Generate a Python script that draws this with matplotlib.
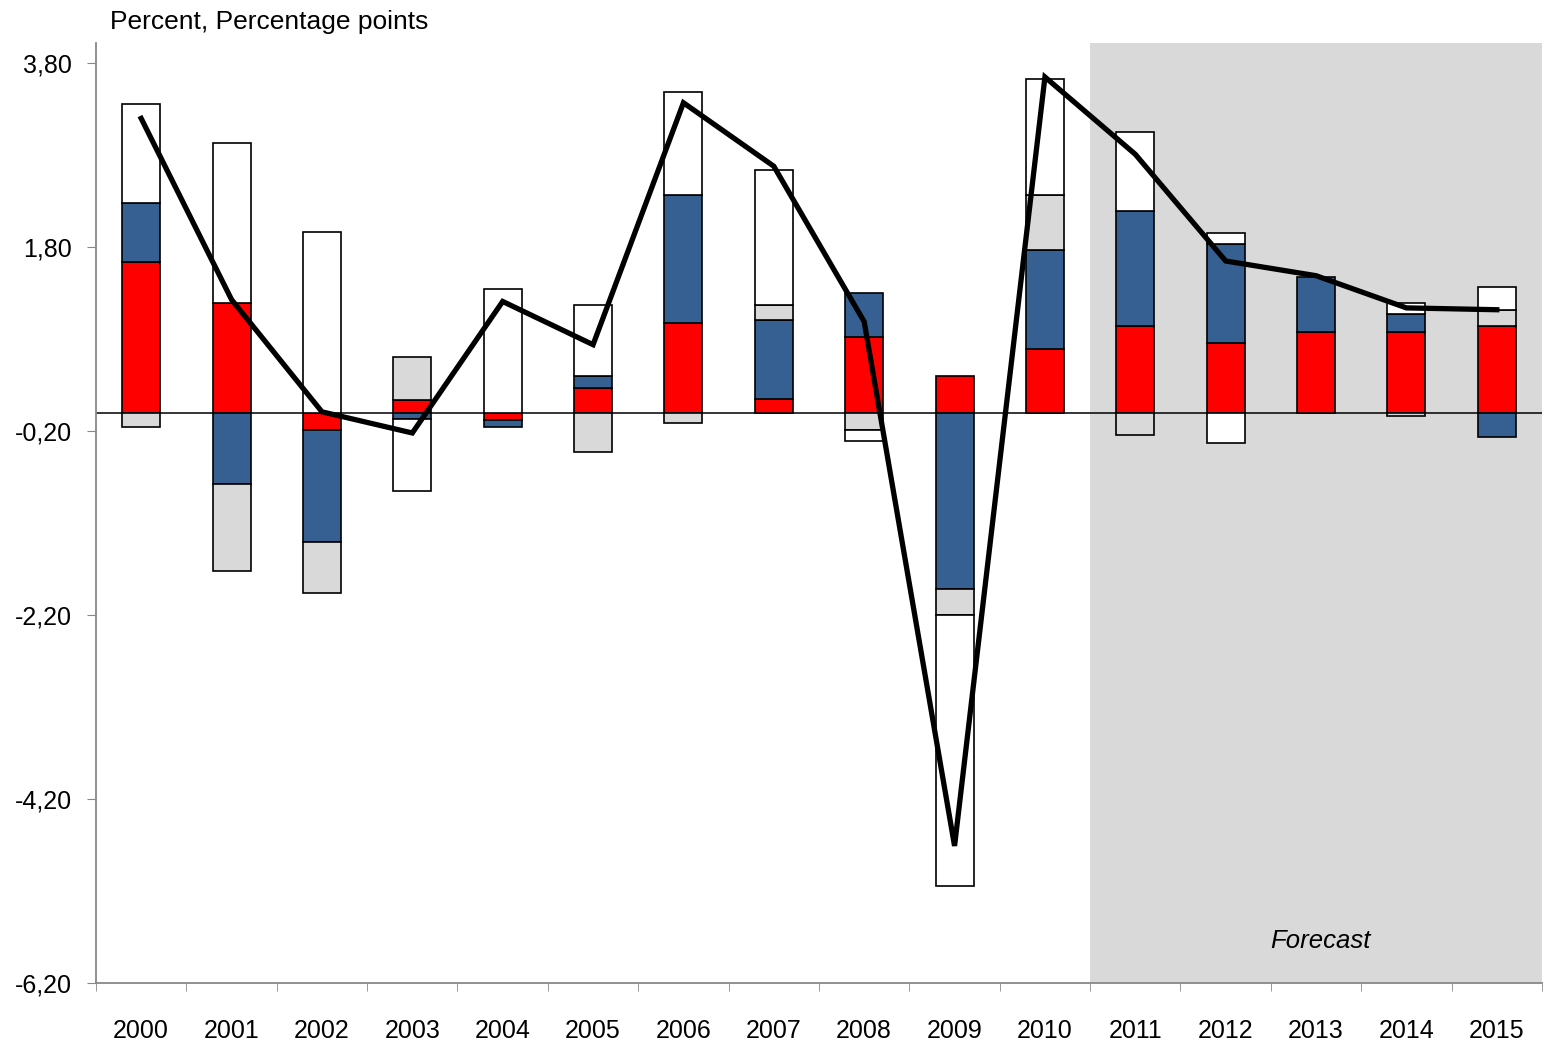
import matplotlib
matplotlib.use("Agg")
import matplotlib.pyplot as plt
import numpy as np

plt.rcParams['font.family'] = ['Liberation Sans', 'DejaVu Sans']

years = [str(y) for y in range(2000, 2016)]

# contributions (percentage points), stacked in this order from zero
red = [1.64, 1.19, -0.19, 0.14, -0.08, 0.27, 0.98, 0.15, 0.82, 0.40, 0.69, 0.94, 0.76, 0.88, 0.88, 0.94]
blue = [0.64, -0.78, -1.22, -0.07, -0.07, 0.13, 1.39, 0.86, 0.48, -1.92, 1.08, 1.25, 1.08, 0.60, 0.19, -0.26]
grey = [-0.16, -0.94, -0.55, 0.47, 0.0, -0.43, -0.11, 0.16, -0.19, -0.28, 0.60, -0.24, 0.0, 0.0, -0.04, 0.18]
white = [1.08, 1.74, 1.97, -0.78, 1.35, 0.77, 1.12, 1.47, -0.12, -2.94, 1.26, 0.86, 0.11, 0.0, 0.12, 0.25]
other = [0, 0, 0, 0, 0, 0, 0, 0, 0, 0, 0, 0, -0.33, 0, 0, 0]

# total (line)
total = [3.20, 1.23, 0.01, -0.22, 1.21, 0.74, 3.37, 2.68, 0.99, -4.71, 3.65, 2.81, 1.65, 1.49, 1.14, 1.12]

yticks = [3.8, 1.8, -0.2, -2.2, -4.2, -6.2]

series = [(red, '#FF0000'), (blue, '#376092'), (grey, '#D9D9D9'),
          (white, '#FFFFFF'), (other, '#FFFFFF')]

fig = plt.figure(figsize=(15.5, 10.4), dpi=100)
ax = fig.add_axes([96 / 1550, 57 / 1040, 1446 / 1550, 940 / 1040])

x = np.arange(len(years))
ax.axvspan(10.5, 15.5, color='#D9D9D9', lw=0, zorder=0)
ax.axhline(0, color='black', lw=1.1, zorder=1)

pos = np.zeros(len(years))
neg = np.zeros(len(years))
for vals, col in series:
    v = np.array(vals, dtype=float)
    base = np.where(v >= 0, pos, neg)
    mask = v != 0
    ax.bar(x[mask], v[mask], bottom=base[mask], width=0.42, color=col,
           edgecolor='black', linewidth=1.2, zorder=2)
    pos = pos + np.where(v > 0, v, 0)
    neg = neg + np.where(v < 0, v, 0)

ax.plot(x, total, color='black', lw=3.8, zorder=3, solid_joinstyle='miter')

ax.text(13.05, -5.74, 'Forecast', style='italic', fontsize=18.5, ha='center', va='center')

ax.set_xlim(-0.5, 15.5)
ax.set_ylim(-6.2, 4.02)
ax.set_yticks(yticks)
ax.set_yticklabels([f"{t:.2f}".replace('.', ',') for t in yticks], fontsize=18)
ax.set_xticks(x)
ax.set_xticklabels(years, fontsize=18)
ax.set_xticks(np.arange(-0.5, 16, 1), minor=True)
ax.tick_params(axis='x', which='major', length=0, pad=26)
ax.tick_params(axis='x', which='minor', length=6, color='#888888', direction='out')
ax.tick_params(axis='y', length=6.5, color='#888888', pad=11)

for s in ['top', 'right']:
    ax.spines[s].set_visible(False)
for s in ['left', 'bottom']:
    ax.spines[s].set_color('#888888')
    ax.spines[s].set_linewidth(1.3)

fig.text(110 / 1550, 1 - 29 / 1040, 'Percent, Percentage points', fontsize=19, va='baseline')

fig.savefig('out.png', dpi=100)
